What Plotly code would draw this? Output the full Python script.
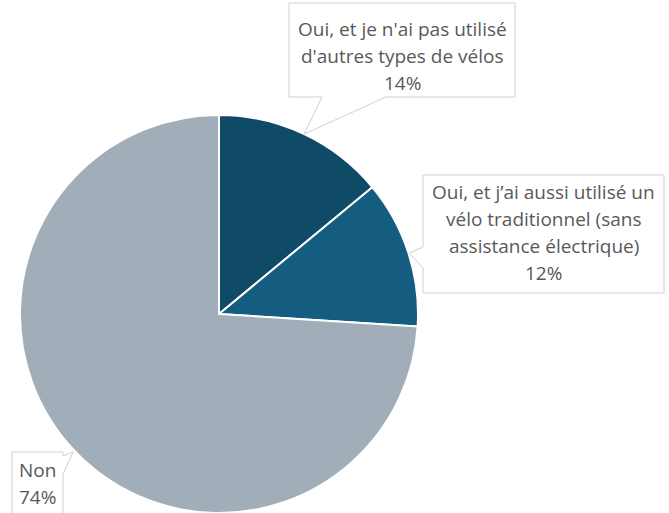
import math

import plotly.graph_objects as go

W, H = 669, 513

labels = [
    "Oui, et je n'ai pas utilisé d'autres types de vélos",
    "Oui, et j’ai aussi utilisé un vélo traditionnel (sans assistance électrique)",
    "Non",
]
values = [14, 12, 74]
label_lines = [
    ["Oui, et je n'ai pas utilisé", "d'autres types de vélos"],
    ["Oui, et j’ai aussi utilisé un", "vélo traditionnel (sans", "assistance électrique)"],
    ["Non"],
]
colors = ["#0f4a67", "#145d80", "#a1aeb9"]

# pie geometry in pixels (center, radius)
CX, CY, R = 219, 315, 200
LINE_H = 27

# callout boxes: (left, top, right, bottom), wedge base, y of first text line
boxes = [
    {"box": (289, 3, 515, 97), "side": "bottom", "base": (322, 386), "y0": 29},
    {"box": (423, 175, 664, 293), "side": "left", "base": (247, 268), "y0": 192},
    {"box": (12, 452, 63, 520), "side": "right", "base": (456, 474), "y0": 470},
]


def fx(x):
    return x / W


def fy(y):
    return min(1, max(0, 1 - y / H))


fig = go.Figure(
    go.Pie(
        labels=labels,
        values=values,
        sort=False,
        direction="clockwise",
        rotation=0,
        marker={"colors": colors, "line": {"color": "#ffffff", "width": 2}},
        textinfo="none",
        hoverinfo="label+percent",
        domain={"x": [fx(CX - R), fx(CX + R)], "y": [fy(CY + R), fy(CY - R)]},
    )
)

total = sum(values)
cum = 0
shapes = []
annotations = []
for i, v in enumerate(values):
    mid = (cum + v / 2) / total * 2 * math.pi
    cum += v
    tx = CX + R * math.sin(mid)
    ty = CY - R * math.cos(mid)
    l, t, r, b = boxes[i]["box"]
    a, c = boxes[i]["base"]
    side = boxes[i]["side"]
    if side == "bottom":
        pts = [(l, t), (r, t), (r, b), (c, b), (tx, ty), (a, b), (l, b)]
    elif side == "left":
        pts = [(l, t), (r, t), (r, b), (l, b), (l, c), (tx, ty), (l, a)]
    else:
        pts = [(l, t), (r, t), (r, a), (tx, ty), (r, c), (r, b), (l, b)]
    path = "M " + " L ".join(f"{x / W:.5f},{1 - y / H:.5f}" for x, y in pts) + " Z"
    shapes.append(
        dict(
            type="path",
            xref="paper",
            yref="paper",
            path=path,
            fillcolor="#ffffff",
            line={"color": "#d0d0d0", "width": 1},
            layer="above",
        )
    )
    for k, line in enumerate(label_lines[i] + [f"{v}%"]):
        annotations.append(
            dict(
                text=line,
                x=fx((l + r) / 2),
                y=fy(boxes[i]["y0"] + k * LINE_H),
                xref="paper",
                yref="paper",
                xanchor="center",
                yanchor="middle",
                showarrow=False,
                font={"family": "Open Sans", "size": 19, "color": "#595959"},
            )
        )

fig.update_layout(
    width=W,
    height=H,
    margin={"l": 0, "r": 0, "t": 0, "b": 0},
    paper_bgcolor="#ffffff",
    showlegend=False,
    shapes=shapes,
    annotations=annotations,
)

fig.write_html(
    "out.html",
    config={"displayModeBar": False},
    post_script="document.body.style.margin='0';",
)
